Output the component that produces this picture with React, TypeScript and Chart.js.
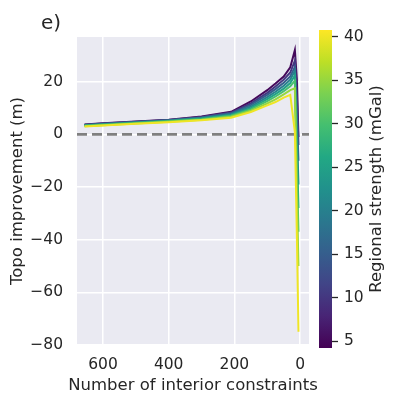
import React, { useEffect, useRef } from "react";
import { Chart, registerables } from "chart.js";

Chart.register(...registerables);

// ---------- data ----------
const constraintCounts = [656, 600, 500, 400, 300, 210, 150, 100, 75, 50, 30, 16, 10, 5];
const regionalStrengths = [5, 10, 15, 20, 25, 30, 35, 40];

const improvement5 = [3.8, 4.2, 4.9, 5.6, 6.8, 8.6, 12.5, 16.8, 19.3, 22.0, 25.5, 32.0, 21.0, -1];
const improvement10 = [3.7, 4.1, 4.8, 5.5, 6.6, 8.3, 11.8, 15.8, 18.2, 20.8, 23.5, 28.0, 15.0, -4];
const improvement15 = [3.6, 4.0, 4.7, 5.4, 6.4, 8.0, 11.2, 15.0, 17.2, 19.6, 22.0, 25.6, 8.0, -10];
const improvement20 = [3.5, 3.9, 4.6, 5.3, 6.2, 7.7, 10.6, 14.2, 16.2, 18.5, 20.8, 24.2, 2.0, -19];
const improvement25 = [3.4, 3.8, 4.4, 5.1, 6.0, 7.4, 10.0, 13.4, 15.3, 17.4, 19.5, 22.4, -5, -28];
const improvement30 = [3.3, 3.7, 4.3, 5.0, 5.8, 7.1, 9.5, 12.6, 14.4, 16.4, 18.3, 20.4, -12, -37];
const improvement35 = [3.1, 3.5, 4.1, 4.8, 5.6, 6.7, 9.0, 11.8, 13.3, 15.2, 16.8, 17.5, -22, -50];
const improvement40 = [3.0, 3.4, 4.0, 4.6, 5.4, 6.3, 8.5, 11.0, 12.3, 14.0, 15.0, 1.0, -38, -75];

const improvementSeries = [
  improvement5, improvement10, improvement15, improvement20,
  improvement25, improvement30, improvement35, improvement40,
];

const xTicks = [0, 200, 400, 600];
const yTicks = [-80, -60, -40, -20, 0, 20];
const colorbarTicks = [5, 10, 15, 20, 25, 30, 35, 40];
const xRange = [-27, 679];
const yRange = [-80, 37];
const colorbarRange = [4.2, 40.8];
const zeroLineY = 0;

// ---------- styling ----------
const FONT = "'DejaVu Sans', sans-serif";
const TEXT = "#262626";
const LABEL_SIZE = 16.5;
const TICK_SIZE = 15.5;
const VIRIDIS = [
  "#440154", "#482475", "#414487", "#355f8d", "#2a788e", "#21918c",
  "#22a884", "#44bf70", "#7ad151", "#bddf26", "#fde725",
];

function hexToRgb(h: string) {
  const n = parseInt(h.slice(1), 16);
  return [(n >> 16) & 255, (n >> 8) & 255, n & 255];
}
function viridis(t: number) {
  const c = Math.max(0, Math.min(1, t)) * (VIRIDIS.length - 1);
  const i = Math.min(Math.floor(c), VIRIDIS.length - 2);
  const f = c - i;
  const a = hexToRgb(VIRIDIS[i]);
  const b = hexToRgb(VIRIDIS[i + 1]);
  const m = a.map((v, k) => Math.round(v + (b[k] - v) * f));
  return `rgb(${m[0]},${m[1]},${m[2]})`;
}
const fmt = (v: number) => (v < 0 ? "\u2212" + Math.abs(v) : String(v));

const plotBg = {
  id: "plotBg",
  beforeDraw(chart: any) {
    const { ctx, chartArea: a } = chart;
    ctx.save();
    ctx.fillStyle = "#eaeaf2";
    ctx.fillRect(a.left, a.top, a.right - a.left, a.bottom - a.top);
    ctx.restore();
  },
};

const mainTexts = {
  id: "mainTexts",
  afterDraw(chart: any) {
    const { ctx, chartArea: a } = chart;
    ctx.save();
    ctx.fillStyle = TEXT;
    ctx.font = `20px ${FONT}`;
    ctx.textAlign = "left";
    ctx.textBaseline = "alphabetic";
    ctx.fillText("e)", 41, 29);
    ctx.font = `${LABEL_SIZE}px ${FONT}`;
    ctx.textAlign = "center";
    ctx.textBaseline = "middle";
    ctx.fillText("Number of interior constraints", (a.left + a.right) / 2, 386);
    ctx.restore();
  },
};

const colorbarLabel = {
  id: "colorbarLabel",
  afterDraw(chart: any) {
    const { ctx, chartArea: a } = chart;
    ctx.save();
    ctx.fillStyle = TEXT;
    ctx.font = `${LABEL_SIZE}px ${FONT}`;
    ctx.translate(377, (a.top + a.bottom) / 2);
    ctx.rotate(-Math.PI / 2);
    ctx.textAlign = "center";
    ctx.textBaseline = "middle";
    ctx.fillText("Regional strength (mGal)", 0, 0);
    ctx.restore();
  },
};

export default function App() {
  const mainRef = useRef<HTMLCanvasElement>(null);
  const cbRef = useRef<HTMLCanvasElement>(null);

  useEffect(() => {
    Chart.defaults.font.family = FONT;
    Chart.defaults.color = TEXT;

    const lineSets = regionalStrengths
      .map((s, i) => ({
        label: `${s} mGal`,
        data: constraintCounts.map((x, j) => ({ x, y: improvementSeries[i][j] })),
        borderColor: viridis((s - colorbarRange[0]) / (colorbarRange[1] - colorbarRange[0])),
        borderWidth: 2,
        pointRadius: 0,
        tension: 0,
        fill: false,
      }))
      .reverse();

    const zeroSet = {
      label: "zero",
      data: [
        { x: xRange[1], y: zeroLineY },
        { x: xRange[0], y: zeroLineY },
      ],
      borderColor: "#808080",
      borderWidth: 2.6,
      borderDash: [10, 5],
      pointRadius: 0,
      fill: false,
    };

    const main = new Chart(mainRef.current!, {
      type: "line",
      data: { datasets: [...lineSets, zeroSet] as any },
      options: {
        animation: false,
        responsive: false,
        layout: { padding: { left: 0, top: 37, right: 86, bottom: 0 } },
        plugins: { legend: { display: false }, tooltip: { enabled: false } },
        scales: {
          x: {
            type: "linear",
            reverse: true,
            min: xRange[0],
            max: xRange[1],
            afterFit: (s: any) => { s.height = 59; },
            afterBuildTicks: (s: any) => { s.ticks = xTicks.map((v) => ({ value: v })); },
            grid: { color: "#ffffff", lineWidth: 1.5, drawTicks: false },
            border: { display: false },
            ticks: { padding: 11, color: TEXT, font: { size: TICK_SIZE }, maxRotation: 0, callback: (v: any) => fmt(Number(v)) },
            title: { display: false },
          },
          y: {
            type: "linear",
            min: yRange[0],
            max: yRange[1],
            afterFit: (s: any) => { s.width = 77; },
            afterBuildTicks: (s: any) => { s.ticks = yTicks.map((v) => ({ value: v })); },
            grid: { color: "#ffffff", lineWidth: 1.5, drawTicks: false },
            border: { display: false },
            ticks: { padding: 14, color: TEXT, font: { size: TICK_SIZE }, callback: (v: any) => fmt(Number(v)) },
            title: {
              display: true,
              text: "Topo improvement (m)",
              color: TEXT,
              font: { size: LABEL_SIZE },
              padding: { top: 8, bottom: 0 },
            },
          },
        },
      } as any,
      plugins: [plotBg, mainTexts],
    });

    const cb = new Chart(cbRef.current!, {
      type: "bar",
      data: {
        labels: [""],
        datasets: [
          {
            data: [[colorbarRange[0], colorbarRange[1]]] as any,
            backgroundColor: (ctx: any) => {
              const a = ctx.chart.chartArea;
              if (!a) return VIRIDIS[0];
              const g = ctx.chart.ctx.createLinearGradient(0, a.bottom, 0, a.top);
              VIRIDIS.forEach((c, i) => g.addColorStop(i / (VIRIDIS.length - 1), c));
              return g;
            },
            borderWidth: 0,
            barPercentage: 1,
            categoryPercentage: 1,
          },
        ],
      },
      options: {
        animation: false,
        responsive: false,
        layout: { padding: { left: 319, top: 30, right: 0, bottom: 56 } },
        plugins: { legend: { display: false }, tooltip: { enabled: false } },
        scales: {
          x: { display: false },
          y: {
            position: "right",
            min: colorbarRange[0],
            max: colorbarRange[1],
            afterFit: (s: any) => { s.width = 63; },
            afterBuildTicks: (s: any) => { s.ticks = colorbarTicks.map((v) => ({ value: v })); },
            grid: { drawOnChartArea: false, drawTicks: true, tickLength: 6, tickColor: TEXT, tickWidth: 1.3 },
            border: { display: false },
            ticks: { padding: 6, color: TEXT, font: { size: TICK_SIZE } },
          },
        },
      } as any,
      plugins: [colorbarLabel],
    });

    return () => {
      main.destroy();
      cb.destroy();
    };
  }, []);

  return (
    <div style={{ position: "fixed", left: 0, top: 0, width: 395, height: 404, background: "#fff" }}>
      <canvas ref={mainRef} width={395} height={404} style={{ position: "absolute", left: 0, top: 0 }} />
      <canvas ref={cbRef} width={395} height={404} style={{ position: "absolute", left: 0, top: 0 }} />
    </div>
  );
}
